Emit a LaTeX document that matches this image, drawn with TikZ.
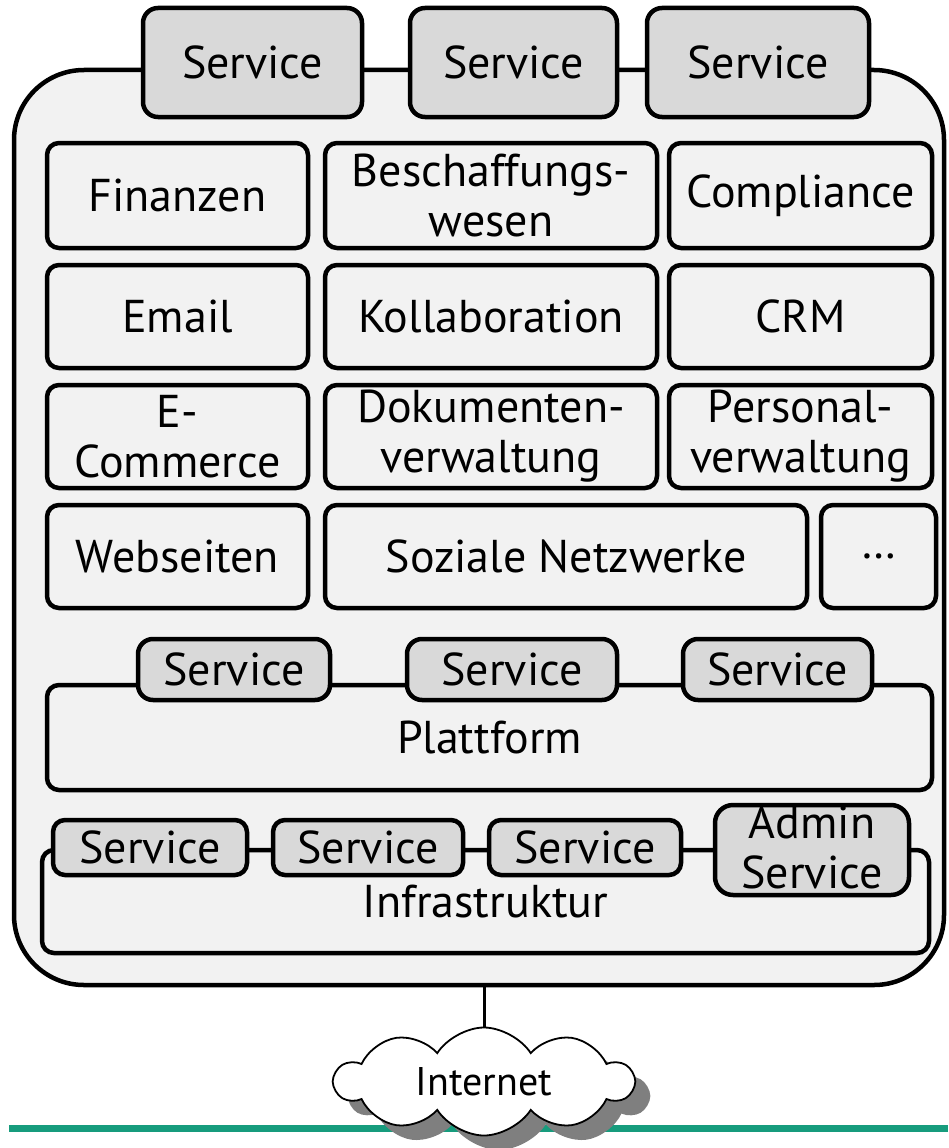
\documentclass[tikz,border=0pt]{standalone}
\usepackage{fontspec}
\setmainfont{PT Sans}
\usetikzlibrary{shapes.symbols,shadows}
\definecolor{bgfill}{HTML}{F2F2F2}
\definecolor{svcfill}{HTML}{D9D9D9}
\definecolor{fhgreen}{HTML}{179C7D}
\definecolor{shadowgray}{HTML}{7F7F7F}
\tikzset{
  frame/.style={draw, line width=4.5pt, fill=bgfill, rounded corners=70pt, inner sep=0pt},
  appbox/.style={draw, line width=4.5pt, fill=bgfill, rounded corners=12pt, inner sep=0pt,
     align=center, font=\fontsize{46}{50}\selectfont},
  layerbox/.style={draw, line width=4.5pt, fill=bgfill, rounded corners=12pt, inner sep=0pt,
     align=center, font=\fontsize{46}{50}\selectfont},
  svcbox/.style={draw, line width=4.5pt, fill=svcfill, rounded corners=15pt, inner sep=0pt,
     align=center, font=\fontsize{46}{50}\selectfont},
  cloudbox/.style={cloud, cloud puffs=10, cloud puff arc=115, aspect=2.9, draw, line width=1.8pt,
     fill=white, minimum width=298pt, minimum height=108pt, inner sep=0pt,
     font=\fontsize{40}{44}\selectfont},
}
\begin{document}
\begin{tikzpicture}[x=1pt,y=-1pt]
\useasboundingbox (0,0) rectangle (948,1148);
% outer frame
\node[frame, minimum width=930pt, minimum height=915pt] (frame) at (479,527.5) {};
% top services
\node[svcbox, minimum width=219pt, minimum height=109pt] (s1) at (252.5,62.5) {Service};
\node[svcbox, minimum width=207pt, minimum height=109pt] (s2) at (513.5,62.5) {Service};
\node[svcbox, minimum width=222pt, minimum height=109pt] (s3) at (758,62.5) {Service};
% application rows
\node[appbox, minimum width=261pt, minimum height=105pt] (fin) at (177.5,195.5) {Finanzen};
\node[appbox, minimum width=332pt, minimum height=105pt] (bes) at (491,195.5) {Beschaffungs-\\wesen};
\node[appbox, minimum width=263pt, minimum height=105pt] (com) at (800.5,195.5) {Compliance};
\node[appbox, minimum width=261pt, minimum height=103pt] (ema) at (177.5,316.5) {Email};
\node[appbox, minimum width=332pt, minimum height=103pt] (kol) at (491,316.5) {Kollaboration};
\node[appbox, minimum width=263pt, minimum height=103pt] (crm) at (800.5,316.5) {CRM};
\node[appbox, minimum width=261pt, minimum height=103pt] (eco) at (177.5,436.5) {E-\\Commerce};
\node[appbox, minimum width=332pt, minimum height=103pt] (dok) at (491,436.5) {Dokumenten-\\verwaltung};
\node[appbox, minimum width=263pt, minimum height=103pt] (per) at (800.5,436.5) {Personal-\\verwaltung};
\node[appbox, minimum width=261pt, minimum height=103pt] (web) at (177.5,556.5) {Webseiten};
\node[appbox, minimum width=482pt, minimum height=103pt] (soz) at (566,556.5) {Soziale Netzwerke};
\node[appbox, minimum width=115pt, minimum height=103pt] (dots) at (878.5,556.5) {\dots};
% platform
\node[layerbox, minimum width=885pt, minimum height=105pt] (plat) at (489.5,737.5) {Plattform};
\node[svcbox, minimum width=192pt, minimum height=61pt] (p1) at (234,669.5) {Service};
\node[svcbox, minimum width=210pt, minimum height=61pt] (p2) at (512,669.5) {Service};
\node[svcbox, minimum width=189pt, minimum height=61pt] (p3) at (777.5,669.5) {Service};
% infrastructure
\node[layerbox, minimum width=887pt, minimum height=103pt] (infra) at (485.5,901.5) {Infrastruktur};
\node[svcbox, minimum width=194pt, minimum height=55pt, rounded corners=12pt] (i1) at (150,847.5) {Service};
\node[svcbox, minimum width=190pt, minimum height=55pt, rounded corners=12pt] (i2) at (368,847.5) {Service};
\node[svcbox, minimum width=192pt, minimum height=55pt, rounded corners=12pt] (i3) at (585,847.5) {Service};
\node[svcbox, minimum width=194pt, minimum height=90pt, rounded corners=18pt] (adm) at (812,850) {};
\node[font=\fontsize{46}{50}\selectfont, align=center, inner sep=0pt, anchor=base] (admt) at (812,888) {Admin\\Service};
% green rule, then cloud with shadow on top of it
\coordinate (gl) at (9,1128.5);
\coordinate (gr) at (948,1128.5);
\draw[fhgreen, line width=7pt] (gl) -- (gr);
\node[cloudbox, fill=shadowgray, draw=none] (cloudshadow) at (499,1096) {\phantom{Internet}};
\node[cloudbox] (cloud) at (484,1081.5) {Internet};
\draw[line width=3pt] (frame.south -| cloud.north) -- (cloud.north);
\end{tikzpicture}
\end{document}
